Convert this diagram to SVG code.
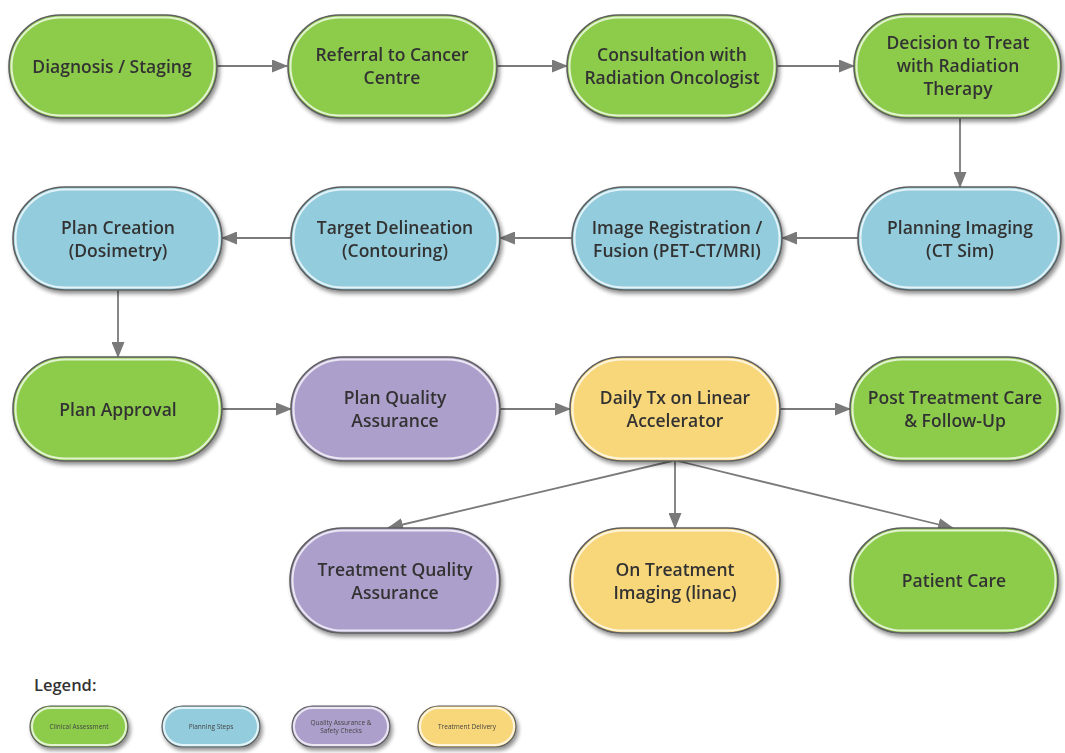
<svg xmlns="http://www.w3.org/2000/svg" width="1065" height="753" viewBox="0 0 1065 753">
<defs>
<filter id="sh" x="-10%" y="-10%" width="125%" height="135%">
<feGaussianBlur in="SourceAlpha" stdDeviation="2"/>
<feOffset dx="2" dy="3" result="b"/>
<feComponentTransfer><feFuncA type="linear" slope="0.45"/></feComponentTransfer>
<feMerge><feMergeNode/><feMergeNode in="SourceGraphic"/></feMerge>
</filter>
<marker id="ah" markerWidth="16" markerHeight="13" refX="15" refY="6.5" orient="auto" markerUnits="userSpaceOnUse">
<path d="M0,0 L16,6.5 L0,13 Z" fill="#7a7a7a"/>
</marker>
</defs>
<style>
.node rect.b{stroke:#5e5e5e;stroke-width:1.6}
.node rect.i{fill:none;stroke:#ffffff;stroke-width:2;stroke-opacity:0.75}
.g rect.b{fill:#8dcc4b}
.bl rect.b{fill:#93cddd}
.p rect.b{fill:#ad9fcb}
.y rect.b{fill:#f8d67a}
.node text{font-family:"Open Sans","Liberation Sans",sans-serif;font-size:17.5px;font-weight:600;fill:#333333;text-anchor:middle}
.lg text{font-family:"Open Sans","Liberation Sans",sans-serif;font-size:6.5px;font-weight:400;fill:#444;text-anchor:middle}
.lg rect.b{stroke:#5e5e5e;stroke-width:1.2}
#connectors line{stroke:#7a7a7a;stroke-width:1.8;fill:none;marker-end:url(#ah)}
</style>
<rect width="1065" height="753" fill="#ffffff"/>

<g id="connectors">
<line x1="217" y1="66" x2="287" y2="66"/>
<line x1="497" y1="66" x2="567" y2="66"/>
<line x1="777" y1="66" x2="854" y2="66"/>
<line x1="960" y1="118" x2="960" y2="187"/>
<line x1="858" y1="238" x2="782" y2="238"/>
<line x1="572" y1="238" x2="500" y2="238"/>
<line x1="291" y1="238" x2="222" y2="238"/>
<line x1="118" y1="290" x2="118" y2="357"/>
<line x1="222" y1="409" x2="291" y2="409"/>
<line x1="500" y1="409" x2="570" y2="409"/>
<line x1="780" y1="409" x2="850" y2="409"/>
<line x1="672" y1="461" x2="388" y2="528"/>
<line x1="675" y1="461" x2="675" y2="528"/>
<line x1="678" y1="461" x2="953" y2="528"/>
</g>

<g id="n-diagnosis" class="node g" filter="url(#sh)">
<rect class="b" x="9" y="15" width="208" height="103" rx="51.5"/>
<rect class="i" x="11.5" y="17.5" width="203" height="98" rx="49"/>
<text x="112" y="73">Diagnosis / Staging</text>
</g>
<g id="n-referral" class="node g" filter="url(#sh)">
<rect class="b" x="288" y="15" width="209" height="103" rx="51.5"/>
<rect class="i" x="290.5" y="17.5" width="204" height="98" rx="49"/>
<text x="392" y="61">Referral to Cancer</text>
<text x="392" y="84">Centre</text>
</g>
<g id="n-consult" class="node g" filter="url(#sh)">
<rect class="b" x="567" y="15" width="210" height="103" rx="51.5"/>
<rect class="i" x="569.5" y="17.5" width="205" height="98" rx="49"/>
<text x="672" y="61">Consultation with</text>
<text x="672" y="84">Radiation Oncologist</text>
</g>
<g id="n-decision" class="node g" filter="url(#sh)">
<rect class="b" x="854" y="14" width="207" height="104" rx="52"/>
<rect class="i" x="856.5" y="16.5" width="202" height="99" rx="49.5"/>
<text x="958" y="49">Decision to Treat</text>
<text x="958" y="72">with Radiation</text>
<text x="958" y="95">Therapy</text>
</g>

<g id="n-plancreation" class="node bl" filter="url(#sh)">
<rect class="b" x="13" y="187" width="209" height="103" rx="51.5"/>
<rect class="i" x="15.5" y="189.5" width="204" height="98" rx="49"/>
<text x="118" y="234">Plan Creation</text>
<text x="118" y="257">(Dosimetry)</text>
</g>
<g id="n-target" class="node bl" filter="url(#sh)">
<rect class="b" x="291" y="187" width="209" height="103" rx="51.5"/>
<rect class="i" x="293.5" y="189.5" width="204" height="98" rx="49"/>
<text x="395" y="234">Target Delineation</text>
<text x="395" y="257">(Contouring)</text>
</g>
<g id="n-registration" class="node bl" filter="url(#sh)">
<rect class="b" x="572" y="187" width="210" height="103" rx="51.5"/>
<rect class="i" x="574.5" y="189.5" width="205" height="98" rx="49"/>
<text x="677" y="234">Image Registration /</text>
<text x="677" y="257">Fusion (PET-CT/MRI)</text>
</g>
<g id="n-planningimaging" class="node bl" filter="url(#sh)">
<rect class="b" x="858" y="187" width="203" height="103" rx="51.5"/>
<rect class="i" x="860.5" y="189.5" width="198" height="98" rx="49"/>
<text x="960" y="234">Planning Imaging</text>
<text x="960" y="257">(CT Sim)</text>
</g>

<g id="n-approval" class="node g" filter="url(#sh)">
<rect class="b" x="13" y="357" width="209" height="104" rx="52"/>
<rect class="i" x="15.5" y="359.5" width="204" height="99" rx="49.5"/>
<text x="118" y="416">Plan Approval</text>
</g>
<g id="n-planqa" class="node p" filter="url(#sh)">
<rect class="b" x="291" y="357" width="209" height="104" rx="52"/>
<rect class="i" x="293.5" y="359.5" width="204" height="99" rx="49.5"/>
<text x="395" y="404">Plan Quality</text>
<text x="395" y="427">Assurance</text>
</g>
<g id="n-daily" class="node y" filter="url(#sh)">
<rect class="b" x="570" y="357" width="210" height="104" rx="52"/>
<rect class="i" x="572.5" y="359.5" width="205" height="99" rx="49.5"/>
<text x="675" y="404">Daily Tx on Linear</text>
<text x="675" y="427">Accelerator</text>
</g>
<g id="n-post" class="node g" filter="url(#sh)">
<rect class="b" x="850" y="357" width="210" height="104" rx="52"/>
<rect class="i" x="852.5" y="359.5" width="205" height="99" rx="49.5"/>
<text x="955" y="404">Post Treatment Care</text>
<text x="955" y="427">&amp; Follow-Up</text>
</g>

<g id="n-treatqa" class="node p" filter="url(#sh)">
<rect class="b" x="290" y="528" width="210" height="105" rx="52.5"/>
<rect class="i" x="292.5" y="530.5" width="205" height="100" rx="50"/>
<text x="395" y="576">Treatment Quality</text>
<text x="395" y="599">Assurance</text>
</g>
<g id="n-ontreat" class="node y" filter="url(#sh)">
<rect class="b" x="570" y="528" width="210" height="105" rx="52.5"/>
<rect class="i" x="572.5" y="530.5" width="205" height="100" rx="50"/>
<text x="675" y="576">On Treatment</text>
<text x="675" y="599">Imaging (linac)</text>
</g>
<g id="n-patientcare" class="node g" filter="url(#sh)">
<rect class="b" x="850" y="528" width="208" height="105" rx="52.5"/>
<rect class="i" x="852.5" y="530.5" width="203" height="100" rx="50"/>
<text x="954" y="587">Patient Care</text>
</g>

<g id="legend">
<text x="34" y="691" font-family="'Open Sans','Liberation Sans',sans-serif" font-size="16.5" font-weight="600" fill="#333">Legend:</text>
<g id="lg-clinical" class="node lg g" filter="url(#sh)">
<rect class="b" x="30" y="706" width="98" height="41" rx="20.5"/>
<rect class="i" x="32" y="708" width="94" height="37" rx="18.5"/>
<text x="79" y="729">Clinical Assessment</text>
</g>
<g id="lg-planning" class="node lg bl" filter="url(#sh)">
<rect class="b" x="162" y="706" width="98" height="41" rx="20.5"/>
<rect class="i" x="164" y="708" width="94" height="37" rx="18.5"/>
<text x="211" y="729">Planning Steps</text>
</g>
<g id="lg-qa" class="node lg p" filter="url(#sh)">
<rect class="b" x="292" y="706" width="98" height="41" rx="20.5"/>
<rect class="i" x="294" y="708" width="94" height="37" rx="18.5"/>
<text x="341" y="725">Quality Assurance &amp;</text>
<text x="341" y="733">Safety Checks</text>
</g>
<g id="lg-delivery" class="node lg y" filter="url(#sh)">
<rect class="b" x="418" y="706" width="98" height="41" rx="20.5"/>
<rect class="i" x="420" y="708" width="94" height="37" rx="18.5"/>
<text x="467" y="729">Treatment Delivery</text>
</g>
</g>
</svg>
